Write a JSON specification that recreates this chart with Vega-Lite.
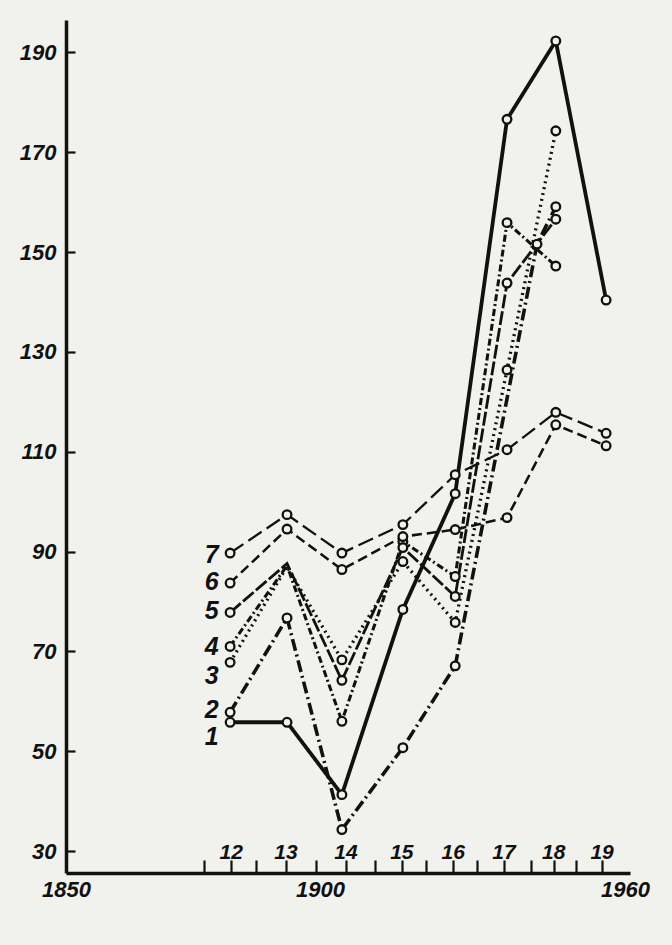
{
  "$schema": "https://vega.github.io/schema/vega-lite/v6.json",
  "width": 564,
  "height": 853,
  "autosize": {"type": "none"},
  "padding": {"left": 66, "top": 20, "right": 42, "bottom": 72},
  "background": "#f1f1ee",
  "config": {"view": {"stroke": null}, "font": "Liberation Sans"},
  "resolve": {"axis": {"x": "independent"}},
  "datasets": {
    "series": [
      {"s": "1", "year": 1882.3, "v": 55.8},
      {"s": "1", "year": 1893.5, "v": 55.8},
      {"s": "1", "year": 1904.3, "v": 41.3},
      {"s": "1", "year": 1916.3, "v": 78.4},
      {"s": "1", "year": 1926.6, "v": 101.6},
      {"s": "1", "year": 1936.8, "v": 176.6},
      {"s": "1", "year": 1946.4, "v": 192.3},
      {"s": "1", "year": 1956.3, "v": 140.4},
      {"s": "2", "year": 1882.3, "v": 57.8},
      {"s": "2", "year": 1893.5, "v": 76.7},
      {"s": "2", "year": 1904.3, "v": 34.3},
      {"s": "2", "year": 1916.3, "v": 50.7},
      {"s": "2", "year": 1926.6, "v": 67.1},
      {"s": "2", "year": 1942.7, "v": 151.6},
      {"s": "2", "year": 1946.4, "v": 159.1},
      {"s": "3", "year": 1882.3, "v": 67.8},
      {"s": "3", "year": 1893.5, "v": 87.0},
      {"s": "3", "year": 1904.3, "v": 68.3},
      {"s": "3", "year": 1916.3, "v": 88.0},
      {"s": "3", "year": 1926.6, "v": 75.8},
      {"s": "3", "year": 1936.8, "v": 126.4},
      {"s": "3", "year": 1946.4, "v": 174.3},
      {"s": "4", "year": 1882.3, "v": 71.0},
      {"s": "4", "year": 1893.5, "v": 87.2},
      {"s": "4", "year": 1904.3, "v": 56.0},
      {"s": "4", "year": 1916.3, "v": 92.0},
      {"s": "4", "year": 1926.6, "v": 85.0},
      {"s": "4", "year": 1936.8, "v": 155.9},
      {"s": "4", "year": 1946.4, "v": 147.2},
      {"s": "5", "year": 1882.3, "v": 77.8},
      {"s": "5", "year": 1893.5, "v": 87.6},
      {"s": "5", "year": 1904.3, "v": 64.2},
      {"s": "5", "year": 1916.3, "v": 90.8},
      {"s": "5", "year": 1926.6, "v": 81.0},
      {"s": "5", "year": 1936.8, "v": 143.8},
      {"s": "5", "year": 1946.4, "v": 156.6},
      {"s": "6", "year": 1882.3, "v": 83.7},
      {"s": "6", "year": 1893.5, "v": 94.5},
      {"s": "6", "year": 1904.3, "v": 86.4},
      {"s": "6", "year": 1916.3, "v": 93.0},
      {"s": "6", "year": 1926.6, "v": 94.4},
      {"s": "6", "year": 1936.8, "v": 96.8},
      {"s": "6", "year": 1946.4, "v": 115.4},
      {"s": "6", "year": 1956.3, "v": 111.2},
      {"s": "7", "year": 1882.3, "v": 89.7},
      {"s": "7", "year": 1893.5, "v": 97.4},
      {"s": "7", "year": 1904.3, "v": 89.7},
      {"s": "7", "year": 1916.3, "v": 95.4},
      {"s": "7", "year": 1926.6, "v": 105.4},
      {"s": "7", "year": 1936.8, "v": 110.4},
      {"s": "7", "year": 1946.4, "v": 117.9},
      {"s": "7", "year": 1956.3, "v": 113.7}
    ],
    "labels": [
      {"s": "7", "year": 1878.7, "v": 89.4},
      {"s": "6", "year": 1878.7, "v": 84.0},
      {"s": "5", "year": 1878.7, "v": 78.0},
      {"s": "4", "year": 1878.7, "v": 70.8},
      {"s": "3", "year": 1878.7, "v": 65.0},
      {"s": "2", "year": 1878.7, "v": 58.3},
      {"s": "1", "year": 1878.7, "v": 52.9}
    ],
    "periods": [
      {"p": "12", "year": 1882.5},
      {"p": "13", "year": 1893.3},
      {"p": "14", "year": 1905.1},
      {"p": "15", "year": 1916.1},
      {"p": "16", "year": 1926.2},
      {"p": "17", "year": 1936.2},
      {"p": "18", "year": 1946.0},
      {"p": "19", "year": 1955.5}
    ]
  },
  "layer": [
    {
      "data": {"name": "series"},
      "mark": {"type": "line", "color": "#111", "strokeCap": "butt"},
      "encoding": {
        "x": {
          "field": "year", "type": "quantitative",
          "scale": {"domain": [1850, 1961], "nice": false, "zero": false},
          "axis": {
            "orient": "bottom", "title": null, "grid": false, "labels": false,
            "values": [1877.2, 1882.5, 1887.4, 1893.3, 1899.2, 1905.1, 1910.8, 1916.1, 1920.9, 1926.2, 1930.9, 1936.2, 1941.5, 1946.0, 1950.4, 1955.5],
            "tickSize": -13, "tickWidth": 2.2, "tickColor": "#111",
            "domainWidth": 3.5, "domainColor": "#111"
          }
        },
        "y": {
          "field": "v", "type": "quantitative",
          "scale": {"domain": [25.6, 196.5], "nice": false, "zero": false},
          "axis": {
            "title": null, "grid": false,
            "values": [30, 50, 70, 90, 110, 130, 150, 170, 190],
            "tickSize": -9, "tickWidth": 2.2, "tickColor": "#111",
            "domainWidth": 3.5, "domainColor": "#111",
            "labelFont": "Liberation Sans", "labelFontStyle": "italic", "labelFontWeight": "bold", "labelFontSize": 22,
            "labelColor": "#111", "labelPadding": 19, "labelOverlap": false
          }
        },
        "detail": {"field": "s"},
        "strokeDash": {
          "field": "s", "legend": null,
          "scale": {"domain": ["1", "2", "3", "4", "5", "6", "7"],
                    "range": [[1, 0], [12, 4, 2, 4], [2, 4], [7, 3, 2, 3], [14, 3], [10, 5], [16, 6]]}
        },
        "strokeWidth": {
          "field": "s", "legend": null,
          "scale": {"domain": ["1", "2", "3", "4", "5", "6", "7"],
                    "range": [3.8, 2.3, 2.7, 2.3, 2.3, 2.4, 2.4]}
        }
      }
    },
    {
      "data": {"name": "series"},
      "transform": [{"filter": "!(datum.year == 1893.5 && (datum.s == '3' || datum.s == '4' || datum.s == '5'))"}],
      "mark": {"type": "point", "shape": "circle", "filled": true, "fill": "#f1f1ee", "stroke": "#111", "strokeWidth": 2.3, "size": 75, "opacity": 1},
      "encoding": {
        "x": {
          "field": "year", "type": "quantitative",
          "axis": {
            "orient": "bottom", "title": null, "grid": false, "ticks": false, "domain": false,
            "values": [1850, 1900, 1960], "format": "d",
            "labelFont": "Liberation Sans", "labelFontStyle": "italic", "labelFontWeight": "bold", "labelFontSize": 22,
            "labelColor": "#111", "labelPadding": 6, "labelFlush": false, "labelOverlap": false
          }
        },
        "y": {"field": "v", "type": "quantitative"}
      }
    },
    {
      "data": {"name": "labels"},
      "mark": {"type": "text", "font": "Liberation Sans", "fontStyle": "italic", "fontWeight": "bold", "fontSize": 25, "color": "#111", "align": "center", "baseline": "middle"},
      "encoding": {
        "x": {"field": "year", "type": "quantitative", "axis": null},
        "y": {"field": "v", "type": "quantitative"},
        "text": {"field": "s"}
      }
    },
    {
      "data": {"name": "periods"},
      "mark": {"type": "text", "font": "Liberation Sans", "fontStyle": "italic", "fontWeight": "bold", "fontSize": 21, "color": "#111", "align": "center", "baseline": "middle"},
      "encoding": {
        "x": {"field": "year", "type": "quantitative", "axis": null},
        "y": {"datum": 29.6, "type": "quantitative"},
        "text": {"field": "p"}
      }
    }
  ]
}
